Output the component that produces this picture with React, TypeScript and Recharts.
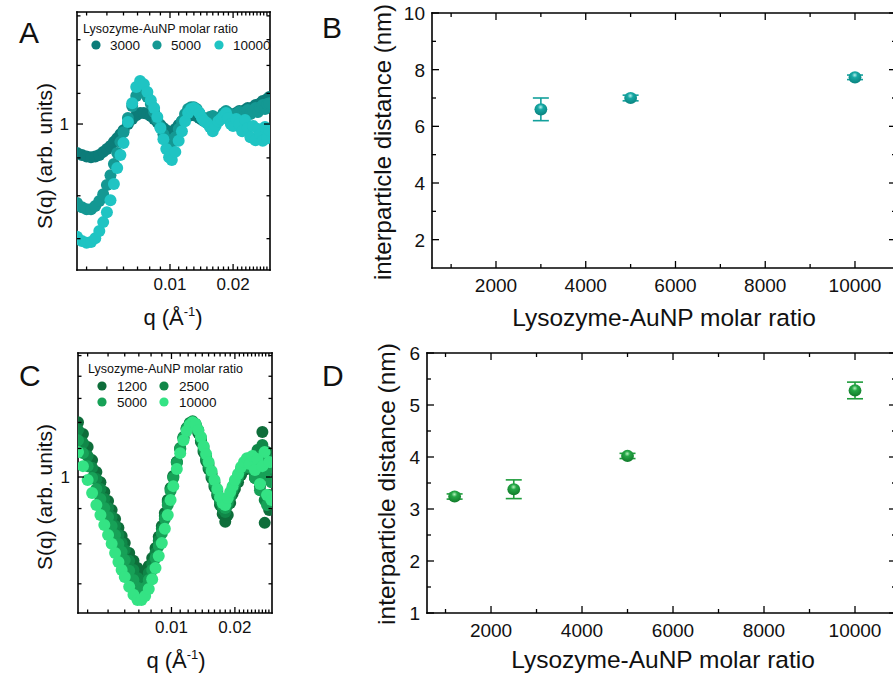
import React from 'react';
import { ScatterChart, Scatter, XAxis, YAxis, ErrorBar } from 'recharts';

const FONT = "'Liberation Sans', Arial, Helvetica, sans-serif";

// ---------- Panel A / C : S(q) curves ----------
const qValues = [
  0.0036, 0.0038, 0.004, 0.0042, 0.0044, 0.0046, 0.0048, 0.005, 0.0052, 0.0054, 0.0056, 0.0058, 0.006,
  0.0063, 0.0066, 0.0069, 0.0072, 0.0075, 0.0078, 0.0081, 0.0084, 0.0087, 0.009, 0.0093, 0.0096, 0.0099,
  0.0102, 0.0106, 0.011, 0.0114, 0.0118, 0.0122, 0.0126, 0.013, 0.0134, 0.0138, 0.0142, 0.0146, 0.015,
  0.0155, 0.016, 0.0165, 0.017, 0.0175, 0.018, 0.0185, 0.019, 0.0195, 0.02,
  0.0207, 0.0214, 0.0221, 0.0228, 0.0235, 0.0242, 0.0249, 0.0256, 0.0263, 0.027, 0.0277, 0.0284, 0.0291, 0.0298,
];

const sA3000 = [
  0.914, 0.908, 0.904, 0.902, 0.904, 0.908, 0.917, 0.925, 0.934, 0.946, 0.957, 0.969, 0.981,
  1.0, 1.016, 1.028, 1.035, 1.035, 1.032, 1.025, 1.016, 1.006, 0.997, 0.988, 0.981, 0.975,
  0.975, 0.985, 0.997, 1.009, 1.019, 1.025, 1.028, 1.028, 1.025, 1.019, 1.013, 1.009, 1.009,
  1.016, 1.019, 1.016, 1.013, 1.022, 1.032, 1.038, 1.035, 1.028, 1.025,
  1.035, 1.041, 1.035, 1.045, 1.051, 1.045, 1.054, 1.061, 1.054, 1.067, 1.074, 1.067, 1.081, 1.088,
];
const sA5000 = [
  0.782, 0.772, 0.767, 0.767, 0.775, 0.787, 0.804, 0.827, 0.853, 0.883, 0.914, 0.946, 0.975,
  1.019, 1.058, 1.091, 1.108, 1.105, 1.088, 1.064, 1.038, 1.013, 0.991, 0.969, 0.954, 0.943,
  0.943, 0.96, 0.985, 1.009, 1.032, 1.048, 1.054, 1.054, 1.048, 1.035, 1.022, 1.016, 1.016,
  1.022, 1.025, 1.016, 1.009, 1.022, 1.035, 1.041, 1.035, 1.022, 1.019,
  1.032, 1.038, 1.025, 1.038, 1.045, 1.032, 1.041, 1.051, 1.038, 1.054, 1.061, 1.048, 1.064, 1.067,
];
const sA10000 = [
  0.704, 0.695, 0.691, 0.693, 0.701, 0.717, 0.737, 0.76, 0.789, 0.83, 0.872, 0.908, 0.943,
  1.006, 1.067, 1.122, 1.143, 1.132, 1.105, 1.077, 1.051, 1.022, 0.988, 0.954, 0.925, 0.902,
  0.894, 0.917, 0.949, 0.978, 1.009, 1.035, 1.048, 1.051, 1.045, 1.035, 1.019, 1.009, 1.003,
  0.991, 0.978, 0.994, 1.009, 1.016, 1.025, 1.035, 1.019, 1.0, 0.994,
  1.016, 1.0, 0.978, 1.013, 0.988, 0.96, 0.994, 0.951, 0.985, 0.969, 0.949, 0.991, 0.957, 0.981,
];

const sC1200 = [
  1.201, 1.154, 1.105, 1.058, 1.017, 0.983, 0.951, 0.923, 0.896, 0.869, 0.844, 0.821, 0.802,
  0.776, 0.756, 0.738, 0.726, 0.726, 0.743, 0.763, 0.789, 0.819, 0.849, 0.887, 0.926, 0.964,
  1.003, 1.051, 1.098, 1.139, 1.174, 1.194, 1.201, 1.19, 1.158, 1.124, 1.087, 1.055, 1.027,
  0.997, 0.967, 0.939, 0.911, 0.884, 0.861, 0.881, 0.917, 0.945, 0.961,
  0.983, 1.007, 1.024, 1.037, 1.058, 1.024, 0.997, 1.051, 0.97, 1.162, 0.858, 1.087, 0.896, 1.051,
];
const sC2500 = [
  1.17, 1.12, 1.073, 1.031, 0.993, 0.961, 0.929, 0.902, 0.875, 0.849, 0.824, 0.802, 0.784,
  0.756, 0.733, 0.714, 0.705, 0.709, 0.726, 0.748, 0.776, 0.808, 0.841, 0.878, 0.92, 0.961,
  1.0, 1.051, 1.102, 1.143, 1.178, 1.198, 1.205, 1.194, 1.166, 1.131, 1.094, 1.062, 1.034,
  1.003, 0.974, 0.945, 0.92, 0.899, 0.89, 0.911, 0.935, 0.957, 0.974,
  0.997, 1.02, 1.034, 1.051, 1.065, 1.037, 1.01, 1.094, 0.99, 1.113, 0.926, 1.065, 0.942, 1.024,
];
const sC5000 = [
  1.131, 1.083, 1.037, 0.997, 0.961, 0.929, 0.902, 0.875, 0.849, 0.824, 0.8, 0.779, 0.758,
  0.731, 0.709, 0.691, 0.684, 0.691, 0.709, 0.733, 0.763, 0.794, 0.829, 0.869, 0.911, 0.954,
  0.997, 1.048, 1.098, 1.139, 1.174, 1.194, 1.201, 1.194, 1.17, 1.139, 1.105, 1.073, 1.044,
  1.013, 0.983, 0.954, 0.929, 0.911, 0.902, 0.92, 0.942, 0.964, 0.983,
  1.003, 1.027, 1.041, 1.055, 1.031, 1.065, 0.997, 1.048, 0.957, 1.076, 1.007, 0.911, 1.031, 0.983,
];
const sC10000 = [
  1.087, 1.037, 0.99, 0.948, 0.911, 0.881, 0.852, 0.824, 0.8, 0.776, 0.753, 0.733, 0.716,
  0.693, 0.675, 0.663, 0.663, 0.672, 0.688, 0.711, 0.738, 0.768, 0.802, 0.841, 0.881, 0.926,
  0.97, 1.027, 1.083, 1.131, 1.166, 1.19, 1.201, 1.194, 1.17, 1.143, 1.109, 1.08, 1.051,
  1.02, 0.99, 0.961, 0.935, 0.917, 0.911, 0.932, 0.951, 0.97, 0.99,
  1.01, 1.034, 1.051, 1.065, 1.044, 1.073, 1.024, 1.062, 0.977, 1.037, 1.087, 0.942, 1.051, 0.926,
];

// ---------- Panel B / D : interparticle distance ----------
const ratioB = [3000, 5000, 10000];
const distB = [6.6, 7.0, 7.73];
const errB = [0.4, 0.1, 0.08];

const ratioD = [1200, 2500, 5000, 10000];
const distD = [3.24, 3.38, 4.02, 5.28];
const errD = [0.05, 0.18, 0.05, 0.16];

// ---------- ticks ----------
const qMajorTicks = [0.01, 0.02];
const qAllTicks = [
  0.004, 0.005, 0.006, 0.007, 0.008, 0.009, 0.01, 0.011, 0.012, 0.013, 0.014, 0.015, 0.016, 0.017, 0.018,
  0.019, 0.02, 0.021, 0.022, 0.023, 0.024, 0.025, 0.026, 0.027, 0.028, 0.029,
];
const sMajorTicks = [1];
const sTicksA = [0.7, 0.8, 0.9, 1, 1.1, 1.2, 1.3, 1.4];
const sTicksC = [0.7, 0.8, 0.9, 1, 1.1, 1.2, 1.3, 1.4, 1.5];
const ratioMajorTicks = [2000, 4000, 6000, 8000, 10000];
const ratioAllTicks = [1000, 2000, 3000, 4000, 5000, 6000, 7000, 8000, 9000, 10000];
const distMajorB = [2, 4, 6, 8, 10];
const distAllB = [2, 3, 4, 5, 6, 7, 8, 9, 10];
const distMajorD = [1, 2, 3, 4, 5, 6];
const distAllD = [1, 1.5, 2, 2.5, 3, 3.5, 4, 4.5, 5, 5.5, 6];

const legendA = ['3000', '5000', '10000'];
const legendC = ['1200', '2500', '5000', '10000'];

// ---------- styles ----------
const colorsA = ['#0c7c79', '#149893', '#1fc4c3'];
const colorsC = ['#0e6d3a', '#108748', '#17a157', '#34e384'];
const tealB = '#13a09c';
const greenD = '#1f9c3c';

const AX = { stroke: '#000', strokeWidth: 1.6, strokeLinecap: 'square' as const };

type Side = 'bottom' | 'top' | 'left' | 'right';
interface TickCfg {
  major: number;
  minor: number;
  labels?: boolean;
  font?: number;
  gap?: number;
}

function tickRenderer(side: Side, majors: number[], cfg: TickCfg) {
  return (props: any) => {
    const { x, y, payload } = props;
    const v = Number(payload.value);
    const isMajor = majors.some((m) => Math.abs(m - v) < 1e-6 * Math.max(1e-6, Math.abs(m)));
    const len = isMajor ? cfg.major : cfg.minor;
    let x2 = x;
    let y2 = y;
    if (side === 'bottom') y2 = y - len;
    if (side === 'top') y2 = y + len;
    if (side === 'left') x2 = x + len;
    if (side === 'right') x2 = x - len;
    let label = null;
    if (cfg.labels && isMajor) {
      if (side === 'bottom') {
        label = (
          <text x={x} y={y + (cfg.gap || 0)} textAnchor="middle" fontSize={cfg.font} fontFamily={FONT} fill="#111">
            {String(v)}
          </text>
        );
      } else if (side === 'left') {
        label = (
          <text x={x - (cfg.gap || 0)} y={y} dy="0.36em" textAnchor="end" fontSize={cfg.font} fontFamily={FONT} fill="#111">
            {String(v)}
          </text>
        );
      }
    }
    return (
      <g>
        <line x1={x} y1={y} x2={x2} y2={y2} stroke="#000" strokeWidth={1.3} />
        {label}
      </g>
    );
  };
}

const dot = (color: string, r: number) => (p: any) => <circle cx={p.cx} cy={p.cy} r={r} fill={color} />;

const sphere = (id: string, dark: string, mid: string, light: string) => (p: any) => (
  <g>
    <defs>
      <radialGradient id={id} cx="0.48" cy="0.32" r="0.62">
        <stop offset="0" stopColor={light} />
        <stop offset="0.35" stopColor={mid} />
        <stop offset="1" stopColor={dark} />
      </radialGradient>
    </defs>
    <ellipse cx={p.cx} cy={p.cy} rx={6.4} ry={6.1} fill={`url(#${id})`} />
  </g>
);

const toPts = (s: number[]) => qValues.map((q, i) => ({ q, s: s[i] }));

interface CurvePanelProps {
  top: number;
  height: number;
  margin: { top: number; right: number; bottom: number; left: number };
  yDomain: [number, number];
  yTicks: number[];
  series: number[][];
  colors: string[];
}

function CurvePanel({ top, height, margin, yDomain, yTicks, series, colors }: CurvePanelProps) {
  const xDomain: [number, number] = [0.0036, 0.03];
  return (
    <div style={{ position: 'absolute', left: 0, top, width: 290, height }}>
      <ScatterChart width={290} height={height} margin={margin}>
        <XAxis
          xAxisId="b"
          dataKey="q"
          type="number"
          scale="log"
          domain={xDomain}
          allowDataOverflow
          ticks={qAllTicks}
          interval={0}
          height={30}
          tickSize={0}
          tickMargin={0}
          tickLine={false}
          axisLine={AX}
          tick={tickRenderer('bottom', qMajorTicks, { major: 6, minor: 3.5, labels: true, font: 17, gap: 19.5 })}
        />
        <XAxis
          xAxisId="t"
          orientation="top"
          dataKey="q"
          type="number"
          scale="log"
          domain={xDomain}
          allowDataOverflow
          ticks={qAllTicks}
          interval={0}
          height={1}
          tickSize={0}
          tickMargin={0}
          tickLine={false}
          axisLine={AX}
          tick={tickRenderer('top', qMajorTicks, { major: 6, minor: 3.5 })}
        />
        <YAxis
          yAxisId="l"
          dataKey="s"
          type="number"
          scale="log"
          domain={yDomain}
          allowDataOverflow
          ticks={yTicks}
          interval={0}
          width={40}
          tickSize={0}
          tickMargin={0}
          tickLine={false}
          axisLine={AX}
          tick={tickRenderer('left', sMajorTicks, { major: 6, minor: 3.5, labels: true, font: 17, gap: 8 })}
        />
        <YAxis
          yAxisId="r"
          orientation="right"
          dataKey="s"
          type="number"
          scale="log"
          domain={yDomain}
          allowDataOverflow
          ticks={yTicks}
          interval={0}
          width={1}
          tickSize={0}
          tickMargin={0}
          tickLine={false}
          axisLine={AX}
          tick={tickRenderer('right', sMajorTicks, { major: 6, minor: 3.5 })}
        />
        {series.map((s, i) => (
          <Scatter
            key={i}
            xAxisId="b"
            yAxisId="l"
            data={toPts(s)}
            fill={colors[i]}
            shape={dot(colors[i], 6)}
            isAnimationActive={false}
          />
        ))}
      </ScatterChart>
    </div>
  );
}

interface DistPanelProps {
  top: number;
  height: number;
  margin: { top: number; right: number; bottom: number; left: number };
  xDomain: [number, number];
  yDomain: [number, number];
  yTicks: number[];
  yMajor: number[];
  ratios: number[];
  dists: number[];
  errs: number[];
  color: string;
  shape: (p: any) => React.ReactElement;
}

function DistPanel({ top, height, margin, xDomain, yDomain, yTicks, yMajor, ratios, dists, errs, color, shape }: DistPanelProps) {
  const data = ratios.map((r, i) => ({ r, d: dists[i], e: errs[i] }));
  return (
    <div style={{ position: 'absolute', left: 290, top, width: 620, height }}>
      <ScatterChart width={620} height={height} margin={margin}>
        <XAxis
          xAxisId="b"
          dataKey="r"
          type="number"
          domain={xDomain}
          allowDataOverflow
          ticks={ratioAllTicks}
          interval={0}
          height={30}
          tickSize={0}
          tickMargin={0}
          tickLine={false}
          axisLine={AX}
          tick={tickRenderer('bottom', ratioMajorTicks, { major: 7, minor: 4, labels: true, font: 19, gap: 23.5 })}
        />
        <XAxis
          xAxisId="t"
          orientation="top"
          dataKey="r"
          type="number"
          domain={xDomain}
          allowDataOverflow
          ticks={ratioAllTicks}
          interval={0}
          height={1}
          tickSize={0}
          tickMargin={0}
          tickLine={false}
          axisLine={AX}
          tick={tickRenderer('top', ratioMajorTicks, { major: 7, minor: 4 })}
        />
        <YAxis
          yAxisId="l"
          dataKey="d"
          type="number"
          domain={yDomain}
          allowDataOverflow
          ticks={yTicks}
          interval={0}
          width={60}
          tickSize={0}
          tickMargin={0}
          tickLine={false}
          axisLine={AX}
          tick={tickRenderer('left', yMajor, { major: 7, minor: 4, labels: true, font: 19, gap: 7 })}
        />
        <YAxis
          yAxisId="r"
          orientation="right"
          dataKey="d"
          type="number"
          domain={yDomain}
          allowDataOverflow
          ticks={yTicks}
          interval={0}
          width={1}
          tickSize={0}
          tickMargin={0}
          tickLine={false}
          axisLine={AX}
          tick={tickRenderer('right', yMajor, { major: 7, minor: 4 })}
        />
        <Scatter xAxisId="b" yAxisId="l" data={data} fill={color} shape={shape} isAnimationActive={false}>
          <ErrorBar dataKey="e" direction="y" width={8} strokeWidth={1.6} stroke={color} isAnimationActive={false} />
        </Scatter>
      </ScatterChart>
    </div>
  );
}

function Overlay() {
  const t = (extra: any) => ({ fontFamily: FONT, fill: '#111', ...extra });
  return (
    <svg width={893} height={681} style={{ position: 'absolute', left: 0, top: 0, pointerEvents: 'none' }}>
      {/* panel letters */}
      <text x={19} y={43} {...t({ fontSize: 30 })}>A</text>
      <text x={322} y={38} {...t({ fontSize: 30 })}>B</text>
      <text x={19} y={386} {...t({ fontSize: 30 })}>C</text>
      <text x={322} y={386} {...t({ fontSize: 30 })}>D</text>

      {/* A titles */}
      <text x={44} y={156} textAnchor="middle" dominantBaseline="central" transform="rotate(-90 44 156)" {...t({ fontSize: 21 })}>
        S(q) (arb. units)
      </text>
      <text x={173} y={325} textAnchor="middle" {...t({ fontSize: 22 })}>
        q (Å<tspan dy={-9} fontSize={13}>-1</tspan><tspan dy={9}>)</tspan>
      </text>

      {/* C titles */}
      <text x={44} y={497} textAnchor="middle" dominantBaseline="central" transform="rotate(-90 44 497)" {...t({ fontSize: 21 })}>
        S(q) (arb. units)
      </text>
      <text x={176} y={668} textAnchor="middle" {...t({ fontSize: 22 })}>
        q (Å<tspan dy={-9} fontSize={13}>-1</tspan><tspan dy={9}>)</tspan>
      </text>

      {/* B titles */}
      <text x={382} y={142} textAnchor="middle" dominantBaseline="central" transform="rotate(-90 382 142)" {...t({ fontSize: 24 })}>
        interparticle distance (nm)
      </text>
      <text x={664} y={326} textAnchor="middle" {...t({ fontSize: 24.5 })}>
        Lysozyme-AuNP molar ratio
      </text>

      {/* D titles */}
      <text x={386} y={484} textAnchor="middle" dominantBaseline="central" transform="rotate(-90 386 484)" {...t({ fontSize: 24.5 })}>
        interparticle distance (nm)
      </text>
      <text x={663} y={668} textAnchor="middle" {...t({ fontSize: 24.5 })}>
        Lysozyme-AuNP molar ratio
      </text>

      {/* legend A */}
      <text x={83} y={33} {...t({ fontSize: 12.5 })}>Lysozyme-AuNP molar ratio</text>
      {legendA.map((lab, i) => {
        const mx = [96, 157, 219][i];
        return (
          <g key={lab}>
            <circle cx={mx} cy={45} r={4.6} fill={colorsA[i]} />
            <text x={mx + 14} y={45} dy="0.36em" {...t({ fontSize: 13.5 })}>{lab}</text>
          </g>
        );
      })}

      {/* legend C */}
      <text x={88} y={373} {...t({ fontSize: 12.5 })}>Lysozyme-AuNP molar ratio</text>
      {legendC.map((lab, i) => {
        const mx = [102, 164, 102, 164][i];
        const my = [386, 386, 402, 402][i];
        return (
          <g key={lab}>
            <circle cx={mx} cy={my} r={4.6} fill={colorsC[i]} />
            <text x={mx + 15} y={my} dy="0.36em" {...t({ fontSize: 13.5 })}>{lab}</text>
          </g>
        );
      })}
    </svg>
  );
}

export default function App() {
  return (
    <div style={{ position: 'absolute', left: 0, top: 0, width: 893, height: 681, overflow: 'hidden', background: '#fff' }}>
      <CurvePanel
        top={0}
        height={340}
        margin={{ top: 11, right: 19, bottom: 40, left: 37 }}
        yDomain={[0.635, 1.417]}
        yTicks={sTicksA}
        series={[sA3000, sA5000, sA10000]}
        colors={colorsA}
      />
      <CurvePanel
        top={340}
        height={341}
        margin={{ top: 12, right: 17, bottom: 38, left: 38 }}
        yDomain={[0.635, 1.513]}
        yTicks={sTicksC}
        series={[sC1200, sC2500, sC5000, sC10000]}
        colors={colorsC}
      />
      <DistPanel
        top={0}
        height={340}
        margin={{ top: 12, right: 13, bottom: 42, left: 82 }}
        xDomain={[574, 10914]}
        yDomain={[1, 10]}
        yTicks={distAllB}
        yMajor={distMajorB}
        ratios={ratioB}
        dists={distB}
        errs={errB}
        color={tealB}
        shape={sphere('gradB', '#0b8783', '#17a8a4', '#b5f0ee')}
      />
      <DistPanel
        top={340}
        height={341}
        margin={{ top: 12, right: 13, bottom: 38, left: 77 }}
        xDomain={[593, 10901]}
        yDomain={[1, 6]}
        yTicks={distAllD}
        yMajor={distMajorD}
        ratios={ratioD}
        dists={distD}
        errs={errD}
        color={greenD}
        shape={sphere('gradD', '#137f2d', '#25a746', '#b5f2bd')}
      />
      <Overlay />
    </div>
  );
}
